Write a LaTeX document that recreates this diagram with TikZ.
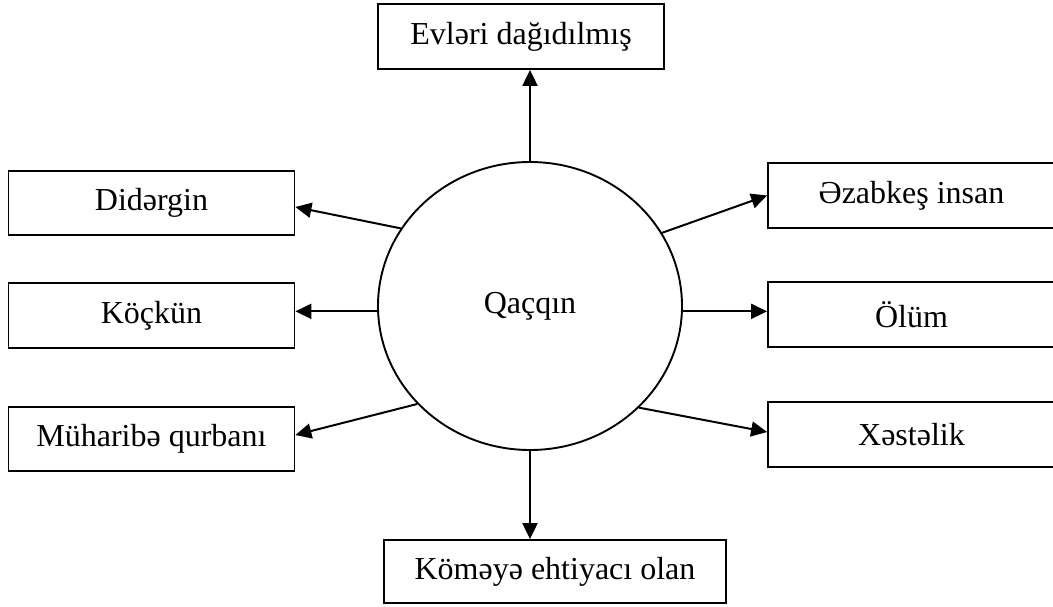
\documentclass[tikz,border=0pt]{standalone}
\usepackage{fontspec}
\setmainfont{Liberation Serif}
\usetikzlibrary{arrows.meta,shapes.geometric,calc}
\begin{document}
\begin{tikzpicture}[x=1pt,y=-1pt,
  txt/.style={font=\fontsize{32}{38}\selectfont},
  boxnode/.style={draw,line width=1.8pt,inner sep=0pt,txt},
  conn/.style={line width=2pt,-{Triangle[length=16pt,width=15pt]}}]
\useasboundingbox (0,0) rectangle (1053,606);
\node[draw, ellipse, line width=1.9pt, minimum width=304pt, minimum height=288pt, inner sep=0pt, txt] (q) at (530,306) {Qaçqın};
\node[boxnode, minimum width=286pt, minimum height=65pt] (ev) at (521,36.5) {Evləri dağıdılmış};
\node[boxnode, minimum width=286pt, minimum height=64pt] (did) at (151.5,203) {Didərgin};
\node[boxnode, minimum width=286pt, minimum height=65pt] (koc) at (151.5,315.5) {Köçkün};
\node[boxnode, minimum width=286pt, minimum height=64pt] (muh) at (151.5,439) {Müharibə qurbanı};
\node[boxnode, minimum width=287pt, minimum height=65pt] (ezab) at (911.5,195.5) {Əzabkeş insan};
\node[boxnode, minimum width=287pt, minimum height=65pt] (olum) at (911.5,314.5) {Ölüm};
\node[boxnode, minimum width=287pt, minimum height=65pt] (xest) at (911.5,434.5) {Xəstəlik};
\node[boxnode, minimum width=342pt, minimum height=63pt] (kom) at (555,571.5) {Köməyə ehtiyacı olan};
\draw[conn] (q.north) -- (q.north |- ev.south);
\draw[conn] (q.south) -- (q.south |- kom.north);
\draw[conn] (q.149) -- ([yshift=-4pt]did.east);
\draw[conn] (q.182) -- (q.182 -| koc.east);
\draw[conn] (q.221) -- ([yshift=4pt]muh.east);
\draw[conn] (q.29) -- (ezab.west);
\draw[conn] (q.358) -- (q.358 -| olum.west);
\draw[conn] (q.317) -- ([yshift=2.5pt]xest.west);
\end{tikzpicture}
\end{document}
